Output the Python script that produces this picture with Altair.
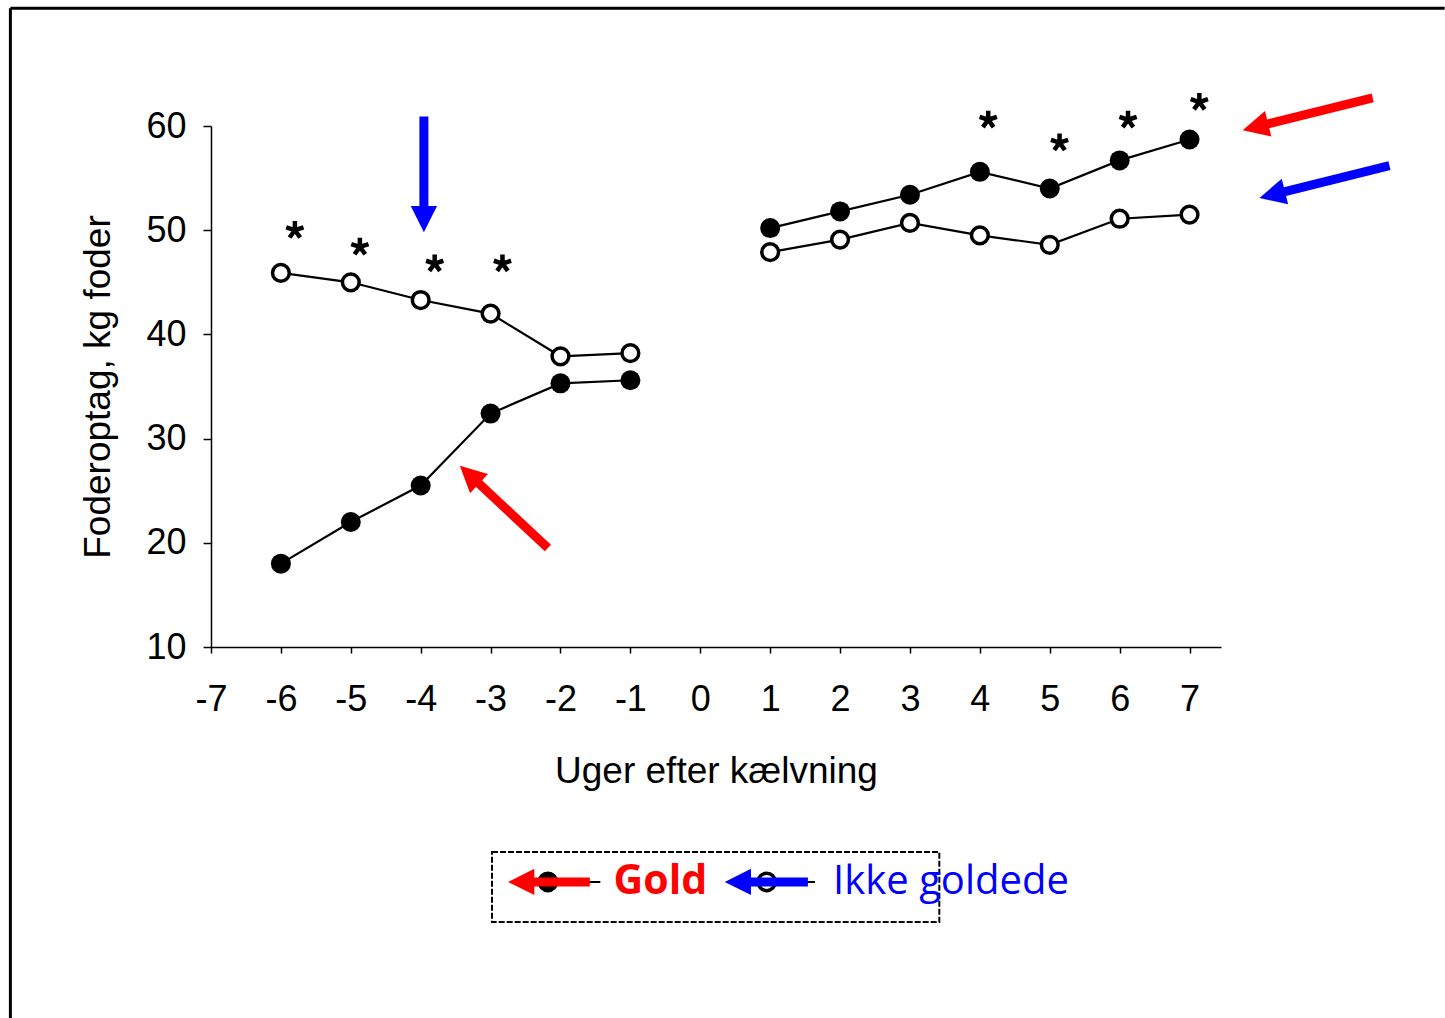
import altair as alt
import pandas as pd

# ---- data ----
weeks = [-6, -5, -4, -3, -2, -1, 1, 2, 3, 4, 5, 6, 7]
segment = ["pre"] * 6 + ["post"] * 7
gold = [18.0, 22.0, 25.5, 32.4, 35.3, 35.6, 50.2, 51.8, 53.4, 55.6, 54.0, 56.7, 58.7]
ikke = [45.9, 45.0, 43.3, 42.0, 37.9, 38.2, 47.9, 49.1, 50.7, 49.5, 48.6, 51.1, 51.5]

star_x = [-5.8, -4.87, -3.8, -2.83, 4.12, 5.14, 6.12, 7.14]
star_y = [50.0, 48.4, 46.8, 46.8, 60.6, 58.4, 60.6, 62.3]

x_ticks = [-7, -6, -5, -4, -3, -2, -1, 0, 1, 2, 3, 4, 5, 6, 7]
y_ticks = [10, 20, 30, 40, 50, 60]

# annotation arrows (tail -> tip), in data units
arrow_tail_x = [9.62, 9.86, -3.954, -2.18, -1.58, 1.54]
arrow_tail_y = [62.7, 56.2, 60.9, 19.5, -12.55, -12.55]
arrow_tip_x = [7.76, 8.0, -3.954, -3.44, -2.75, 0.35]
arrow_tip_y = [59.6, 53.1, 49.8, 27.4, -12.55, -12.55]
arrow_color = ["#ff0000", "#0000ff", "#0000ff", "#ff0000", "#ff0000", "#0000ff"]
arrow_angle = [256, 256, 180, 313, 270, 270]

# legend (drawn inside the chart below the axis title)
leg_box_x = [-2.98, 3.42]
leg_box_y = [-9.67, -16.39]
leg_row_y = -12.55
leg_line_x = [[-2.68, -1.43], [0.42, 1.64]]
leg_sym_x = [-2.18, 0.95]
leg_text_x = [-1.24, 1.9]
leg_text = ["Gold", "Ikke goldede"]

# frame of the scanned picture
frame_left_x = -9.87
frame_top_y = 71.3
frame_right_x = 10.65
frame_bottom_y = -25.6

X_DOMAIN = [-7, 7.45]
Y_DOMAIN = [10, 60]

series = pd.DataFrame({
    "week": weeks * 2,
    "value": gold + ikke,
    "group": ["Gold"] * len(weeks) + ["Ikke goldede"] * len(weeks),
    "seg": segment * 2,
})
series["line_id"] = series["group"] + series["seg"]

xs = alt.Scale(domain=X_DOMAIN, nice=False, zero=False)
ys = alt.Scale(domain=Y_DOMAIN, nice=False, zero=False)

X = alt.X("week:Q", scale=xs,
          axis=alt.Axis(values=x_ticks, labelExpr="'' + datum.value", grid=False,
                        labelFlush=False,
                        title="Uger efter kælvning", tickSize=6, labelPadding=29,
                        titlePadding=36))
Y = alt.Y("value:Q", scale=ys,
          axis=alt.Axis(values=y_ticks, grid=False, title="Foderoptag, kg foder",
                        tickSize=8, labelPadding=17, titlePadding=28))

lines = alt.Chart(series).mark_line(color="black", strokeWidth=2.2).encode(
    x=X, y=Y, detail="line_id:N")

filled = alt.Chart(series[series.group == "Gold"]).mark_point(
    shape="circle", filled=True, color="black", size=400, opacity=1).encode(
    x="week:Q", y="value:Q")

opened = alt.Chart(series[series.group == "Ikke goldede"]).mark_point(
    shape="circle", filled=True, fill="white", stroke="black", strokeWidth=3.5,
    size=280, opacity=1).encode(x="week:Q", y="value:Q")

star_path = ("M0,0L0,-1M0,0L0.951,-0.309M0,0L0.588,0.809M0,0L-0.588,0.809"
             "M0,0L-0.951,-0.309")
stars = alt.Chart(pd.DataFrame({"week": star_x, "value": star_y})).mark_point(
    shape=star_path, filled=False, stroke="black", strokeWidth=4.5, size=330,
    opacity=1).encode(x="week:Q", y="value:Q")

# arrows
arr = pd.DataFrame({
    "tx": arrow_tail_x, "ty": arrow_tail_y,
    "hx": arrow_tip_x, "hy": arrow_tip_y,
    "color": arrow_color, "angle": arrow_angle,
})
arr["sx"] = arr["hx"] + 0.15 * (arr["tx"] - arr["hx"])
arr["sy"] = arr["hy"] + 0.15 * (arr["ty"] - arr["hy"])

# legend black lines and symbols (drawn under the legend arrows)
leg_lines = alt.Chart(pd.DataFrame({
    "x": [p[0] for p in leg_line_x], "x2": [p[1] for p in leg_line_x],
    "y": [leg_row_y] * 2})).mark_rule(color="black", strokeWidth=2).encode(
    x="x:Q", x2="x2:Q", y="y:Q")
leg_syms = alt.Chart(pd.DataFrame({
    "x": leg_sym_x, "y": [leg_row_y] * 2,
    "fill": ["black", "white"]})).mark_point(
    shape="circle", filled=True, stroke="black", strokeWidth=3.5, size=300,
    opacity=1).encode(x="x:Q", y="y:Q", fill=alt.Fill("fill:N", scale=None))

shafts = alt.Chart(arr).mark_rule(strokeWidth=9, strokeCap="butt").encode(
    x="tx:Q", y="ty:Q", x2="sx:Q", y2="sy:Q",
    color=alt.Color("color:N", scale=None))
head_path = "M0,0L-1,2L1,2Z"
heads = alt.Chart(arr).mark_point(shape=head_path, filled=True, size=690,
                                  opacity=1, strokeWidth=0).encode(
    x="hx:Q", y="hy:Q", color=alt.Color("color:N", scale=None),
    angle=alt.Angle("angle:Q", scale=None))

leg_box = alt.Chart(pd.DataFrame({
    "x": [leg_box_x[0]], "x2": [leg_box_x[1]],
    "y": [leg_box_y[0]], "y2": [leg_box_y[1]]})).mark_rect(
    fill="white", fillOpacity=0, stroke="black", strokeWidth=2,
    strokeDash=[6, 2]).encode(x="x:Q", x2="x2:Q", y="y:Q", y2="y2:Q")

leg_df = pd.DataFrame({"x": leg_text_x, "y": [leg_row_y] * 2, "t": leg_text})
leg_gold = alt.Chart(leg_df.iloc[[0]]).mark_text(
    align="left", baseline="middle", font="Open Sans", fontSize=41,
    fontWeight="bold", color="#ff0000").encode(x="x:Q", y="y:Q", text="t:N")
leg_ikke = alt.Chart(leg_df.iloc[[1]]).mark_text(
    align="left", baseline="middle", font="Open Sans", fontSize=40,
    fontWeight="normal", color="#0000ff").encode(x="x:Q", y="y:Q", text="t:N")

frame = alt.Chart(pd.DataFrame({
    "x": [frame_left_x, frame_left_x], "x2": [frame_right_x, frame_left_x],
    "y": [frame_top_y, frame_top_y], "y2": [frame_top_y, frame_bottom_y]})).mark_rule(
    color="black", strokeWidth=3).encode(x="x:Q", x2="x2:Q", y="y:Q", y2="y2:Q")

chart = alt.layer(
    frame, lines, opened, filled, stars, leg_box, leg_lines, leg_syms,
    shafts, heads, leg_gold, leg_ikke
).properties(
    width=1010, height=521,
    autosize=alt.AutoSizeParams(type="none"),
    padding={"left": 211, "top": 126, "right": 224, "bottom": 371},
    background="white",
).configure_view(stroke=None).configure_axis(
    labelFont="Liberation Sans", titleFont="Liberation Sans",
    labelFontSize=36, titleFontSize=37, titleFontWeight="normal",
    labelColor="black", titleColor="black", domainColor="black",
    tickColor="black", domainWidth=1.5, tickWidth=1.5,
)

chart.save("out.html", embed_options={"renderer": "svg", "actions": False})
